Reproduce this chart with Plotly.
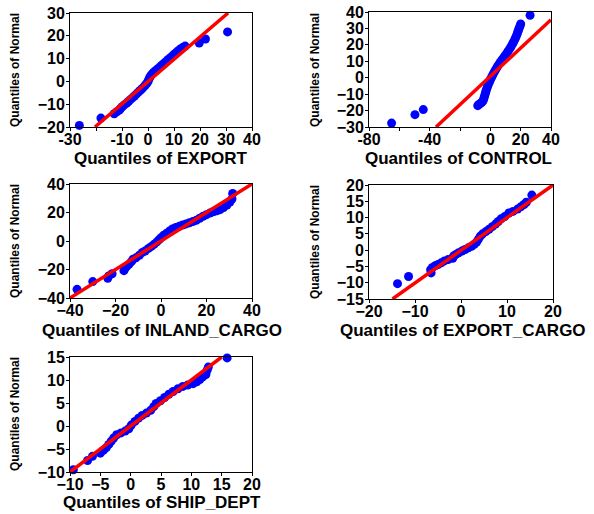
import plotly.graph_objects as go

# ---------------- data ----------------
export_x = [-26.4, -18.1, -13.0, -12.0, -11.0, -10.5, -9.8, -9.0, -8.2, -7.5, -6.8, -6.0, -5.2, -4.5,
            -3.8, -3.0, -2.3, -1.6, -1.0, -0.4, 0.0, 0.3, 0.6, 1.0, 1.5, 2.2, 3.0, 3.8, 4.6, 5.4,
            6.2, 7.0, 7.8, 8.6, 9.4, 10.2, 11.0, 11.8, 12.6, 13.5, 14.3, 19.7, 22.1, 30.6]
export_y = [-19.3, -16.1, -14.2, -13.3, -12.6, -11.8, -11.0, -10.2, -9.5, -8.8, -8.0, -7.2, -6.4, -5.6,
            -4.8, -4.0, -3.2, -2.4, -1.6, -0.8, 0.0, 0.8, 1.6, 2.4, 3.2, 4.0, 4.8, 5.6, 6.4, 7.2,
            8.0, 8.8, 9.6, 10.4, 11.2, 12.0, 12.8, 13.6, 14.3, 15.0, 15.5, 16.8, 18.6, 21.7]
export_line_x = [-20.4, 30.8]
export_line_y = [-20.0, 30.0]

control_x = [-65.1, -49.7, -44.2, -8.3, -7.5, -6.5, -5.5, -4.8, -4.3, -3.9, -3.5, -3.1, -2.7, -2.2,
             -1.7, -1.1, -0.5, 0.1, 0.8, 1.5, 2.2, 3.0, 3.8, 4.6, 5.5, 6.5, 7.5, 8.5, 9.5, 10.5,
             11.5, 12.4, 13.3, 14.1, 14.9, 15.6, 16.3, 16.9, 17.5, 18.0, 18.5, 19.0, 19.5, 20.0, 26.2]
control_y = [-27.6, -22.5, -19.4, -17.0, -16.3, -15.6, -14.9, -14.0, -12.8, -11.5, -10.2, -8.9, -7.6, -6.3,
             -5.0, -3.7, -2.4, -1.1, 0.2, 1.5, 2.8, 4.1, 5.4, 6.7, 8.0, 9.3, 10.6, 11.9, 13.2, 14.5,
             15.8, 17.1, 18.4, 19.7, 21.0, 22.3, 23.6, 24.9, 26.2, 27.5, 28.8, 30.1, 31.4, 32.7, 38.0]
control_line_x = [-35.8, 40.0]
control_line_y = [-30.0, 35.3]

inland_x = [-36.9, -30.0, -23.4, -23.0, -21.5, -16.3, -15.8, -15.0, -14.0, -13.0, -12.3, -11.0, -9.5,
            -8.2, -7.0, -5.5, -4.2, -3.0, -1.8, -0.8, 0.2, 1.2, 2.5, 3.8, 5.0, 6.5, 8.0, 9.5, 11.0,
            12.5, 14.0, 15.5, 17.0, 18.5, 20.0, 21.5, 23.0, 24.5, 26.0, 27.5, 29.0, 30.3, 31.2, 31.5]
inland_y = [-33.9, -28.5, -26.2, -24.5, -23.0, -20.8, -19.2, -17.8, -16.2, -14.5, -12.8, -11.8, -10.0,
            -8.0, -7.0, -5.2, -3.8, -2.2, -0.6, 1.0, 2.5, 4.0, 5.5, 7.0, 8.5, 9.5, 10.3, 11.2, 12.0,
            12.8, 13.6, 14.5, 16.0, 17.3, 18.5, 19.6, 20.5, 21.2, 22.0, 23.5, 25.3, 27.3, 29.5, 33.4]
inland_line_x = [-40.0, 40.0]
inland_line_y = [-40.0, 40.0]

expcargo_x = [-13.8, -11.4, -6.5, -6.6, -6.2, -5.6, -5.0, -4.3, -3.6, -2.8, -1.8, -1.6, -1.1, -0.5,
              0.2, 0.9, 1.6, 2.3, 2.9, 3.4, 3.8, 4.2, 4.7, 5.4, 6.1, 6.8, 7.5, 8.1, 8.7, 9.5, 10.4,
              11.3, 12.3, 13.0, 13.7, 14.2, 15.4]
expcargo_y = [-10.3, -8.1, -7.0, -6.0, -5.3, -4.8, -4.4, -3.9, -3.3, -2.9, -2.5, -1.8, -1.3, -0.8,
              -0.3, 0.2, 0.7, 1.2, 1.8, 2.5, 3.4, 4.3, 5.0, 5.7, 6.4, 7.2, 8.0, 8.8, 9.6, 10.3, 11.4,
              11.9, 12.6, 13.3, 14.0, 14.7, 16.9]
expcargo_line_x = [-14.9, 20.0]
expcargo_line_y = [-15.0, 20.0]

ship_x = [-9.45, -7.1, -6.3, -5.0, -4.5, -4.0, -3.6, -3.2, -2.8, -2.3, -1.6, -0.9, -0.3, 0.1, 0.7,
          1.3, 1.9, 2.6, 3.3, 3.8, 4.2, 4.9, 5.6, 6.3, 7.0, 7.8, 8.6, 9.4, 10.3, 10.9, 11.4, 11.9,
          12.4, 12.6, 12.8, 15.9]
ship_y = [-9.5, -7.5, -6.6, -5.9, -5.3, -4.7, -4.0, -3.3, -2.6, -1.9, -1.5, -1.1, -0.6, 0.2, 1.0,
          1.7, 2.3, 2.8, 3.4, 4.2, 4.9, 5.5, 6.2, 6.9, 7.5, 8.1, 8.6, 8.9, 9.2, 9.6, 10.1, 10.7,
          11.2, 12.1, 12.8, 14.8]
ship_line_x = [-10.0, 15.0]
ship_line_y = [-10.0, 15.0]

# tick values / labels
p1_xt = [-30, -20, -10, 0, 10, 20, 30, 40]
p1_xl = ["-30", "", "-10", "0", "10", "20", "30", "40"]
p1_yt = [-20, -10, 0, 10, 20, 30]
p2_xt = [-80, -60, -40, -20, 0, 20, 40]
p2_xl = ["-80", "", "-40", "", "0", "20", "40"]
p2_yt = [-30, -20, -10, 0, 10, 20, 30, 40]
p3_xt = [-40, -20, 0, 20, 40]
p3_yt = [-40, -20, 0, 20, 40]
p4_xt = [-20, -10, 0, 10, 20]
p4_yt = [-15, -10, -5, 0, 5, 10, 15, 20]
p5_xt = [-10, -5, 0, 5, 10, 15, 20]
p5_yt = [-10, -5, 0, 5, 10, 15]

titles_x = ["Quantiles of EXPORT", "Quantiles of CONTROL", "Quantiles of INLAND_CARGO",
            "Quantiles of EXPORT_CARGO", "Quantiles of SHIP_DEPT"]
title_y = "Quantiles of Normal"

# ---------------- figure ----------------
W, H = 594, 514
FONT = "Liberation Sans, Arial, sans-serif"

panels = [
    dict(x=export_x, y=export_y, lx=export_line_x, ly=export_line_y,
         xr=[-30, 40], yr=[-20, 30], xt=p1_xt, xl=p1_xl, yt=p1_yt,
         box=(70, 252, 13, 127), xt_pos=(160, 158), yt_pos=(15, 70)),
    dict(x=control_x, y=control_y, lx=control_line_x, ly=control_line_y,
         xr=[-80, 40], yr=[-30, 40], xt=p2_xt, xl=p2_xl, yt=p2_yt,
         box=(369, 551, 12, 127), xt_pos=(458, 158), yt_pos=(315, 70)),
    dict(x=inland_x, y=inland_y, lx=inland_line_x, ly=inland_line_y,
         xr=[-40, 40], yr=[-40, 40], xt=p3_xt, xl=None, yt=p3_yt,
         box=(70, 252, 184, 298), xt_pos=(162, 330), yt_pos=(15, 241)),
    dict(x=expcargo_x, y=expcargo_y, lx=expcargo_line_x, ly=expcargo_line_y,
         xr=[-20, 20], yr=[-15, 20], xt=p4_xt, xl=None, yt=p4_yt,
         box=(369, 553, 185, 299), xt_pos=(463, 330), yt_pos=(315, 242)),
    dict(x=ship_x, y=ship_y, lx=ship_line_x, ly=ship_line_y,
         xr=[-10, 20], yr=[-10, 15], xt=p5_xt, xl=None, yt=p5_yt,
         box=(70, 252, 357, 472), xt_pos=(162, 502), yt_pos=(15, 414)),
]

fig = go.Figure()
layout = dict(width=W, height=H, margin=dict(l=0, r=0, t=0, b=0, autoexpand=False),
              template="none",
              paper_bgcolor="white", plot_bgcolor="white", showlegend=False,
              font=dict(family=FONT, size=16, color="black"), annotations=[])

for i, p in enumerate(panels, start=1):
    sfx = "" if i == 1 else str(i)
    xa, ya = "x" + sfx, "y" + sfx
    fig.add_trace(go.Scatter(x=p["x"], y=p["y"], mode="markers", xaxis=xa, yaxis=ya,
                             marker=dict(color="#0000FF", size=9, line=dict(width=0)),
                             cliponaxis=False))
    fig.add_trace(go.Scatter(x=p["lx"], y=p["ly"], mode="lines", xaxis=xa, yaxis=ya,
                             line=dict(color="#FF0000", width=3.5)))
    l, r, t, b = p["box"]
    xdict = dict(domain=[l / W, r / W], range=p["xr"], anchor=ya, automargin=False,
                 tickmode="array", tickvals=p["xt"], showgrid=False, zeroline=False,
                 showline=True, linecolor="black", linewidth=1, mirror=True,
                 ticks="outside", ticklen=3, tickcolor="black", ticklabelstandoff=-5,
                 tickfont=dict(family=FONT, size=16, weight=700, color="black"))
    if p["xl"] is not None:
        xdict["ticktext"] = p["xl"]
    ydict = dict(domain=[1 - b / H, 1 - t / H], range=p["yr"], anchor=xa, automargin=False,
                 tickmode="array", tickvals=p["yt"], showgrid=False, zeroline=False,
                 showline=True, linecolor="black", linewidth=1, mirror=True,
                 ticks="outside", ticklen=3, tickcolor="black", ticklabelstandoff=-2,
                 tickfont=dict(family=FONT, size=16, weight=700, color="black"))
    layout["xaxis" + sfx] = xdict
    layout["yaxis" + sfx] = ydict
    tx, ty = p["xt_pos"]
    layout["annotations"].append(dict(text=titles_x[i - 1], xref="paper", yref="paper",
                                      x=tx / W, y=1 - ty / H, showarrow=False,
                                      xanchor="center", yanchor="middle",
                                      font=dict(family=FONT, size=17, weight=700, color="black")))
    yx, yy = p["yt_pos"]
    layout["annotations"].append(dict(text=title_y, xref="paper", yref="paper",
                                      x=yx / W, y=1 - yy / H, showarrow=False, textangle=-90,
                                      xanchor="center", yanchor="middle",
                                      font=dict(family=FONT, size=12, weight=700, color="black")))

fig.update_layout(**layout)
fig.write_html("out.html", config={"displayModeBar": False},
               post_script="document.body.style.margin='0';document.body.style.overflow='hidden';")
